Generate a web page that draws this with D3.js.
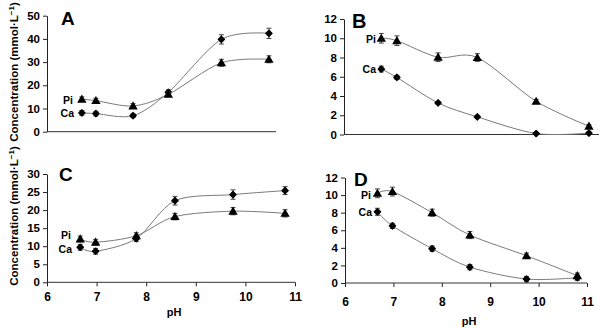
<!DOCTYPE html>
<html><head><meta charset="utf-8">
<script src="https://cdn.jsdelivr.net/npm/d3@7"></script>
<style>
body{margin:0;background:#fff;}
svg{display:block;font-family:"Liberation Sans",Arial,sans-serif;}
.tick text{font-weight:bold;font-size:11.5px;fill:#000;}
</style></head><body>
<svg id="c" width="600" height="328"></svg>
<script>
const pH = [6.67, 6.98, 7.8, 8.58, 9.75, 10.8];
const xTicks = [6, 7, 8, 9, 10, 11];

const A_Ca = [8.1, 7.8, 6.9, 17.0, 39.8, 42.4];
const A_Pi = [14.0, 13.4, 11.1, 16.1, 29.7, 31.2];
const A_Ca_err = [1.0, 1.0, 0.8, 1.0, 2.0, 2.2];
const A_Pi_err = [1.0, 1.0, 1.0, 1.0, 1.5, 1.5];
const A_yTicks = [0, 10, 20, 30, 40, 50];

const B_Ca = [6.8, 5.93, 3.28, 1.83, 0.1, 0.14];
const B_Pi = [10.0, 9.75, 8.03, 8.0, 3.45, 0.86];
const B_Ca_err = [0.3, 0.2, 0.15, 0.1, 0.1, 0.1];
const B_Pi_err = [0.5, 0.5, 0.45, 0.4, 0.2, 0.15];
const B_yTicks = [0, 2, 4, 6, 8, 10, 12];

const C_Ca = [9.7, 8.6, 12.1, 22.6, 24.3, 25.4];
const C_Pi = [12.0, 11.1, 12.9, 18.2, 19.7, 19.1];
const C_Ca_err = [0.8, 0.8, 0.8, 1.2, 1.3, 1.1];
const C_Pi_err = [0.8, 0.8, 0.8, 0.9, 1.0, 1.0];
const C_yTicks = [0, 5, 10, 15, 20, 25, 30];

const D_Ca = [8.1, 6.5, 3.9, 1.8, 0.45, 0.6];
const D_Pi = [10.2, 10.4, 8.0, 5.45, 3.1, 0.83];
const D_Ca_err = [0.4, 0.3, 0.3, 0.3, 0.3, 0.3];
const D_Pi_err = [0.5, 0.5, 0.4, 0.4, 0.3, 0.3];
const D_yTicks = [0, 2, 4, 6, 8, 10, 12];

const panels = [
  {letter:"A", ca:A_Ca, pi:A_Pi, caErr:A_Ca_err, piErr:A_Pi_err, yTicks:A_yTicks, yMax:50,
   xr:[51.5, 278], yr:[131.7, 15.7], axisX:47, axisEnd:276, xLabels:false,
   letterPos:[61, 25], letterSize:19, piLab:[73,103.5], caLab:[74,117]},
  {letter:"B", ca:B_Ca, pi:B_Pi, caErr:B_Ca_err, piErr:B_Pi_err, yTicks:B_yTicks, yMax:12,
   xr:[347.6, 599], yr:[134.5, 19], axisX:344, axisEnd:599, xLabels:false,
   letterPos:[352, 28], letterSize:20, piLab:[376,42.5], caLab:[376,73]},
  {letter:"C", ca:C_Ca, pi:C_Pi, caErr:C_Ca_err, piErr:C_Pi_err, yTicks:C_yTicks, yMax:30,
   xr:[47, 295], yr:[282.3, 174], axisX:47, axisEnd:295, xLabels:true, tickLabY:15, pHY:316,
   letterPos:[59, 181], letterSize:19, piLab:[71,238.5], caLab:[72,253]},
  {letter:"D", ca:D_Ca, pi:D_Pi, caErr:D_Ca_err, piErr:D_Pi_err, yTicks:D_yTicks, yMax:12,
   xr:[345, 587], yr:[283, 177.5], axisX:345, axisEnd:587, xLabels:true, tickLabY:19, pHY:325,
   letterPos:[354, 186], letterSize:19, piLab:[371,198.5], caLab:[372,216]}
];

const svg = d3.select("#c");
const lineCol = "#7a7a7a";

panels.forEach(p => {
  const x = d3.scaleLinear().domain([6, 11]).range(p.xr);
  const y = d3.scaleLinear().domain([0, p.yMax]).range(p.yr);
  const g = svg.append("g");

  const ya = g.append("g").attr("transform", `translate(${p.axisX},0)`)
    .call(d3.axisLeft(y).tickValues(p.yTicks).tickSize(4).tickSizeOuter(0).tickPadding(3));
  ya.select(".domain").attr("stroke", "#222");
  ya.selectAll(".tick line").attr("stroke", "#222");

  if (p.xLabels) {
    const xa = g.append("g").attr("transform", `translate(0,${p.yr[0]})`)
      .call(d3.axisBottom(x).tickValues(xTicks).tickSize(4).tickSizeOuter(0).tickFormat(d3.format("d")));
    xa.select(".domain").remove();
    xa.selectAll(".tick line").attr("stroke", "#222");
    xa.selectAll(".tick text").attr("y", p.tickLabY).attr("dy", "0.35em").style("font-size", "12px");
    g.append("text").attr("x", (p.xr[0] + p.xr[1]) / 2 + 3).attr("y", p.pHY)
      .attr("text-anchor", "middle").style("font-weight", "bold").style("font-size", "11px").text("pH");
  }
  g.append("line").attr("x1", p.axisX).attr("x2", p.axisEnd)
    .attr("y1", p.yr[0]).attr("y2", p.yr[0]).attr("stroke", "#333").attr("stroke-width", 1);

  const curve = d3.line().curve(d3.curveCardinal.tension(0.1))
    .x((d, i) => x(pH[i])).y(d => y(d));

  [[p.ca, p.caErr, d3.symbolDiamond2, 26], [p.pi, p.piErr, d3.symbolTriangle, 38]].forEach(([vals, errs, sym, size]) => {
    g.append("path").datum(vals).attr("d", curve).attr("fill", "none")
      .attr("stroke", lineCol).attr("stroke-width", 1);
    const eb = g.append("g");
    vals.forEach((v, i) => {
      const cx = x(pH[i]), y1 = y(v + errs[i]), y2 = y(v - errs[i]);
      eb.append("line").attr("x1", cx).attr("x2", cx).attr("y1", y1).attr("y2", y2).attr("stroke", "#444");
      [y1, y2].forEach(yy => eb.append("line").attr("x1", cx - 2.5).attr("x2", cx + 2.5)
        .attr("y1", yy).attr("y2", yy).attr("stroke", "#444"));
    });
    const isTri = sym === d3.symbolTriangle;
    g.selectAll(null).data(vals).enter().append("path")
      .attr("d", d3.symbol().type(sym).size(size))
      .attr("transform", (d, i) => `translate(${x(pH[i])},${y(d) + (isTri ? 0.8 : 0)})`)
      .attr("fill", "#000")
      .attr("stroke", isTri ? "none" : "#000")
      .attr("stroke-width", 1.2)
      .attr("stroke-linejoin", "round");
  });

  g.append("text").attr("x", p.letterPos[0]).attr("y", p.letterPos[1])
    .style("font-weight", "bold").style("font-size", p.letterSize + "px").text(p.letter);
  g.append("text").attr("x", p.piLab[0]).attr("y", p.piLab[1]).attr("text-anchor", "end")
    .style("font-weight", "bold").style("font-size", "10.5px").text("Pi");
  g.append("text").attr("x", p.caLab[0]).attr("y", p.caLab[1]).attr("text-anchor", "end")
    .style("font-weight", "bold").style("font-size", "10.5px").text("Ca");
});

[[18, 72], [18, 216]].forEach(([tx, ty]) => {
  const t = svg.append("text").attr("transform", `translate(${tx},${ty}) rotate(-90)`)
    .attr("text-anchor", "middle").style("font-weight", "bold").style("font-size", "11.5px");
  t.append("tspan").text("Concentration (mmol·L");
  t.append("tspan").attr("dy", "-4").style("font-size", "8px").text("−1");
  t.append("tspan").attr("dy", "4").text(")");
});
</script>
</body></html>
